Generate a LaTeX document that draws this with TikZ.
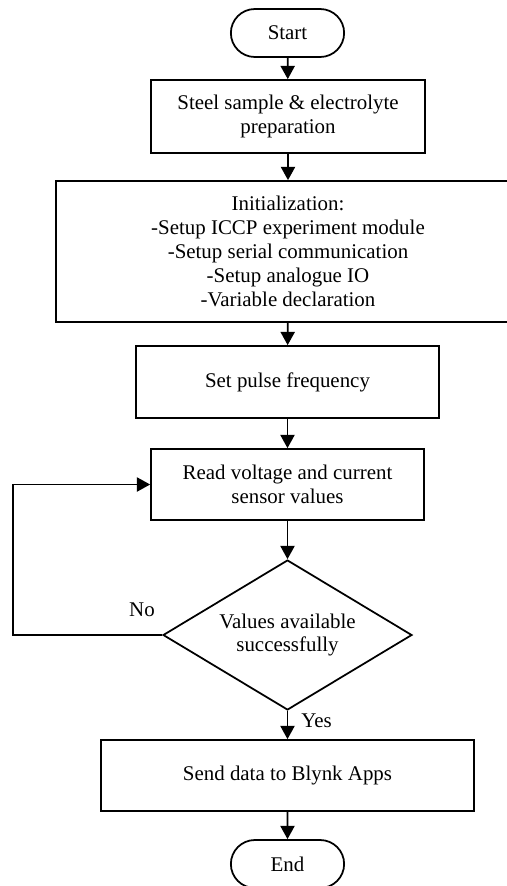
\documentclass[tikz,border=0pt]{standalone}
\usepackage{fontspec}
\setmainfont{Liberation Serif}
\usetikzlibrary{arrows.meta,shapes.geometric,shapes.misc}

\tikzset{
  flow/.style={draw, line width=1pt, align=center, font=\fontsize{11.9}{13.6}\selectfont},
  procbox/.style={flow, rectangle, inner sep=2pt},
  termbox/.style={flow, rounded rectangle, minimum width=2.5cm, minimum height=0.96cm},
  decbox/.style={flow, diamond, inner sep=0pt, minimum width=4.98cm, minimum height=3cm, aspect=1.66},
  arr/.style={line width=1pt, -{Triangle[width=8pt,length=7.5pt]}},
}

\begin{document}
\begin{tikzpicture}[x=0.02cm,y=-0.02cm]
\useasboundingbox (0,0) rectangle (507,886);
\begin{scope}
\clip (0,0) rectangle (507,886);
\node[termbox] (start) at (287.5,33) {Start};
\node[procbox, minimum width=5.48cm, minimum height=1.46cm] (prep) at (288,116.5)
  {Steel sample \& electrolyte\\preparation};
\node[procbox, minimum width=9.28cm, minimum height=2.82cm] (init) at (288,251.5)
  {Initialization:\\-Setup ICCP experiment module\\-Setup serial communication\\-Setup analogue IO\\-Variable declaration};
\node[procbox, minimum width=6.06cm, minimum height=1.44cm] (pulse) at (287.5,382) {Set pulse frequency};
\node[procbox, minimum width=5.46cm, minimum height=1.42cm] (read) at (287.5,484.5)
  {Read voltage and current\\sensor values};
\node[decbox] (check) at (287.5,635) {Values available\\successfully};
\node[procbox, minimum width=7.46cm, minimum height=1.42cm] (send) at (287.5,775.5) {Send data to Blynk Apps};
\node[termbox] (finish) at (287.5,864) {End};
\coordinate (loop) at (13,635);

\draw[arr] (start) -- (prep);
\draw[arr] (prep) -- (init);
\draw[arr] (init) -- (pulse);
\draw[arr] (pulse) -- (read);
\draw[arr] (read) -- (check);
\draw[arr] (check) -- node[right, pos=0.35, font=\fontsize{11.9}{13.6}\selectfont, xshift=4pt] {Yes} (send);
\draw[arr] (send) -- (finish);
\draw[arr] (check.west) -- (loop) |- (read.west);
\node[font=\fontsize{11.9}{13.6}\selectfont] (nolbl) at (142,610) {No};
\end{scope}
\end{tikzpicture}
\end{document}
